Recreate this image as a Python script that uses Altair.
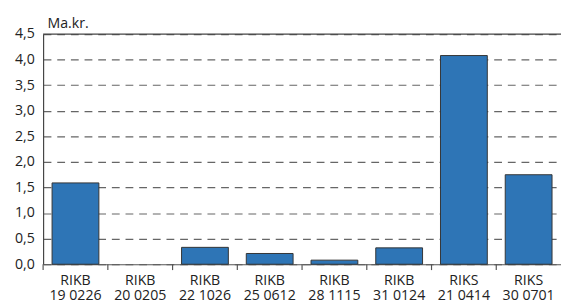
import altair as alt
import pandas as pd

series = ["RIKB|19 0226", "RIKB|20 0205", "RIKB|22 1026", "RIKB|25 0612",
          "RIKB|28 1115", "RIKB|31 0124", "RIKS|21 0414", "RIKS|30 0701"]
values = [1.59, 0.0, 0.33, 0.21, 0.08, 0.32, 4.08, 1.75]
y_ticks = [0, 0.5, 1.0, 1.5, 2.0, 2.5, 3.0, 3.5, 4.0, 4.5]
y_max = 4.5

df = pd.DataFrame({"cat": series, "val": values})

W, H = 531, 236
FONT = "Open Sans"
FS = 14.5

xscale = alt.Scale(domain=series, paddingInner=0, paddingOuter=0)
yscale = alt.Scale(domain=[0, y_max], nice=False)

xaxis = alt.Axis(labelExpr="split(datum.label, '|')", ticks=False, tickSize=0,
                 labelAngle=0, labelPadding=21, labelBaseline="alphabetic",
                 labelLineHeight=15, labelFontSize=FS, labelColor="#222222",
                 labelFont=FONT, labelOverlap=False, labelBound=False,
                 domainColor="#555555", domainWidth=1.2, grid=False, title=None)
yaxis = alt.Axis(values=y_ticks, ticks=False, tickSize=0, labelPadding=9,
                 labelExpr="replace(format(datum.value, '.1f'), '.', ',')",
                 labelFontSize=FS, labelColor="#222222", labelFont=FONT,
                 labelOverlap=False,
                 domainColor="#444444", domainWidth=1.2,
                 grid=True, gridDash=[8, 6], gridColor="#666666", gridWidth=1.2,
                 title="Ma.kr.", titleAngle=0, titleAlign="left",
                 titleBaseline="alphabetic", titleX=4, titleY=-7,
                 titleFontSize=FS, titleFontWeight="normal",
                 titleColor="#222222", titleFont=FONT)

bars = alt.Chart(df).mark_bar(
    color="#2E75B6", stroke="#333333", strokeWidth=1,
    width=alt.RelativeBandSize(0.723)
).encode(
    x=alt.X("cat:N", scale=xscale, sort=series, axis=xaxis),
    y=alt.Y("val:Q", scale=yscale, axis=yaxis),
    strokeOpacity=alt.condition(alt.datum.val > 0, alt.value(1), alt.value(0)),
)

ticks = alt.Chart(df).mark_rule(color="#555555", strokeWidth=1.2).encode(
    x=alt.X("cat:N", scale=xscale, sort=series, bandPosition=0, axis=xaxis),
    y=alt.value(H),
    y2=alt.value(H + 6),
)

top = alt.Chart(pd.DataFrame({"val": [y_max]})).mark_rule(
    color="#444444", strokeWidth=1.2
).encode(y=alt.Y("val:Q", scale=yscale, axis=yaxis))

chart = alt.layer(bars, ticks, top).properties(
    width=W, height=H,
    autosize=alt.AutoSizeParams(type="none"),
    padding={"left": 36, "top": 23, "right": 0, "bottom": 35},
).configure_view(strokeWidth=0)

chart.save("out.html", embed_options={"renderer": "svg", "actions": False})
